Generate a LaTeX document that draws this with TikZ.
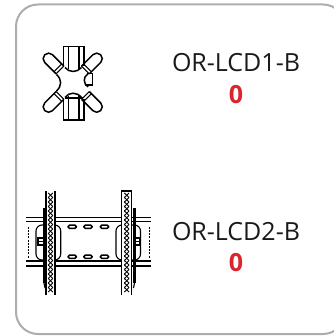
\documentclass[tikz,border=0pt]{standalone}
\usepackage{fontspec}
\setmainfont{Open Sans}
\definecolor{countred}{RGB}{218,36,46}
\begin{document}
\begin{tikzpicture}[x=1pt,y=-1pt,
  frame/.style={draw=black!32,line width=2pt,rounded corners=22pt},
  ink/.style={draw=black,line width=1.5pt},
  thin ink/.style={draw=black,line width=1.1pt},
  chain/.style={draw=black,line width=.95pt},
  heavy/.style={draw=black,line width=2.4pt},
  model/.style={font=\fontsize{25}{30}\selectfont,text=black!90,inner sep=0pt},
  count/.style={font=\fontsize{25}{30}\selectfont\bfseries,text=countred,inner sep=0pt}]
\useasboundingbox (0,0) rectangle (333,336);
\fill[white] (0,0) rectangle (333,336);
\draw[frame] (16,4.5) rectangle (345,334);
% icon 1
\foreach \a in {45,135,225,315}{
  \begin{scope}[shift={(72.7,82.7)},rotate=\a]
    \draw[ink,rounded corners=5.4pt] (18,-5.5) -- (39.5,-5.5) -- (39.5,5.5) -- (18,5.5);
    \draw[thin ink] (18,-5.5) -- (18,5.5) (21,-5.5) -- (21,5.5);
  \end{scope}}
\draw[ink] (63.3,66) -- (63.3,46.7) -- (84,46.7) -- (84,66);
\draw[ink] (63.3,99.5) -- (63.3,120) -- (84,120) -- (84,99.5);
\draw[ink] (68.3,46.7) -- (68.3,69.5) (79,46.7) -- (79,69.5);
\draw[ink] (68.3,120) -- (68.3,96) (79,120) -- (79,96);
\draw[ink] (64.5,98) -- (83,98);
\draw[ink] (65,67.5) .. controls (69,72.8) and (77,72.8) .. (81.5,67.5);
\draw[ink] (65,97.5) .. controls (69,91.8) and (77,91.8) .. (81.5,97.5);
\draw[ink] (56.5,74.5) .. controls (62,79.5) and (62,86) .. (56.5,91);
\draw[ink] (88,73.8) .. controls (83,77) and (83,83) .. (88,87);
\draw[ink] (87,73.5) -- (92.7,73.5) -- (92.7,85) -- (85,85);
% icon 2
\foreach \y in {217.7,221.7,261,266}{\draw[thin ink] (26,\y) -- (151,\y);}
\foreach \x in {72.2,88,104.5}{
  \draw[ink,rounded corners=1.5pt] (\x-4.2,225.2) rectangle (\x+4.2,228.4);
  \draw[ink,rounded corners=1.5pt] (\x-4.2,255.2) rectangle (\x+4.2,258.4);
}
\draw[thin ink,rounded corners=6pt] (36,225) rectangle (60.7,260);
\draw[thin ink,rounded corners=6pt] (116,225) rectangle (140.5,260);
\draw[heavy] (44,208) -- (44,283);
\draw[thin ink] (44,283) -- (45,288);
\draw[heavy] (134.5,208) -- (134.5,283);
\draw[thin ink] (134.5,283) -- (133.5,288);
\fill[white] (46,192) rectangle (55,295);
\fill[white] (121.7,192) rectangle (131.7,295);
\draw[thin ink] (46,191) -- (46,295) (55,191) -- (55,295);
\draw[thin ink] (121.7,295) -- (121.7,191) -- (131.7,191) -- (131.7,295);
\foreach \xa/\xb in {48.2/52.8,124.4/129}{
  \foreach \y in {193,197.5,...,291}{
    \draw[chain] (\xa,\y) -- (\xb,\y+4.5);
    \draw[chain] (\xb,\y) -- (\xa,\y+4.5);
  }}
\foreach \x in {28.3,149.3}{
  \draw[ink,dash pattern=on 2pt off 1.2pt] (\x,226.7) -- (\x,258);
}
\draw[heavy] (38,236.7) -- (38,246);
\draw[thin ink] (38,238) -- (44,238) (38,241.5) -- (44,241.5) (38,245) -- (44,245);
\draw[heavy] (140,236.7) -- (140,246);
\draw[thin ink] (134,238) -- (140,238) (134,241.5) -- (140,241.5) (134,245) -- (140,245);
% labels
\node[model] (m1) at (236,63) {OR-LCD1-B};
\node[count] (c1) at (236,95) {0};
\node[model] (m2) at (236,232) {OR-LCD2-B};
\node[count] (c2) at (236,263) {0};
\end{tikzpicture}
\end{document}
